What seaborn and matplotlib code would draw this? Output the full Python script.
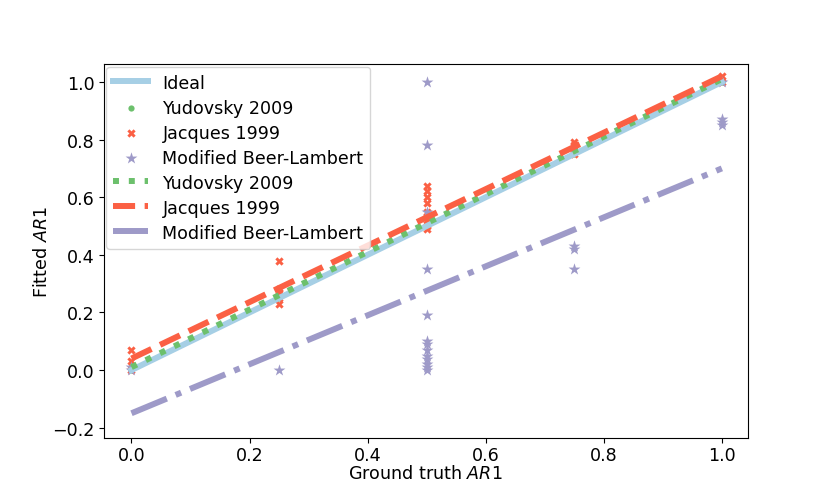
import numpy as np
import pandas as pd
import matplotlib
matplotlib.use("Agg")
import matplotlib.pyplot as plt
import seaborn as sns

# ground truth / fitted values
yud_x = [0.0, 0.0, 0.25, 0.25, 0.5, 0.5, 0.75, 0.75, 1.0]
yud_y = [0.0, 0.01, 0.25, 0.26, 0.5, 0.51, 0.75, 0.76, 1.0]

jac_x = [0.0, 0.0, 0.0,
         0.25, 0.25, 0.25, 0.25, 0.25, 0.25,
         0.5, 0.5, 0.5, 0.5, 0.5, 0.5, 0.5, 0.5, 0.5,
         0.75, 0.75, 0.75, 0.75, 0.75,
         1.0, 1.0]
jac_y = [0.0, 0.03, 0.07,
         0.38, 0.28, 0.27, 0.26, 0.25, 0.23,
         0.64, 0.62, 0.60, 0.58, 0.55, 0.53, 0.52, 0.50, 0.49,
         0.79, 0.78, 0.77, 0.76, 0.75,
         1.02, 1.0]

mbl_x = [0.0, 0.0, 0.25,
         0.5, 0.5, 0.5, 0.5, 0.5, 0.5, 0.5, 0.5, 0.5, 0.5, 0.5, 0.5, 0.5,
         0.75, 0.75, 0.75, 0.75,
         1.0, 1.0, 1.0, 1.0]
mbl_y = [0.0, 0.01, 0.0,
         1.0, 0.78, 0.55, 0.35, 0.19, 0.1, 0.09, 0.07, 0.05, 0.04, 0.02, 0.01, 0.0,
         0.76, 0.43, 0.42, 0.35,
         1.0, 0.87, 0.86, 0.85]

# linear fits (intercept at 0, value at 1)
fit_x = [0.0, 1.0]
yud_fit = [0.01, 1.01]
jac_fit = [0.04, 1.02]
mbl_fit = [-0.15, 0.70]
ideal = [0.0, 1.0]

c_blue = "#a6cfe5"
c_green = "#6cc06c"
c_red = "#fb6044"
c_purple = "#9e9ac8"

plt.rcParams["font.size"] = 12.6
plt.rcParams["xtick.major.pad"] = 2
plt.rcParams["ytick.major.pad"] = 3
fig, ax = plt.subplots(figsize=(8.3, 4.85), dpi=100)
fig.subplots_adjust(left=0.125, right=0.901, top=0.866, bottom=0.0948)

sns.lineplot(x=fit_x, y=ideal, ax=ax, color=c_blue, lw=4.3, label="Ideal")
sns.scatterplot(x=yud_x, y=yud_y, ax=ax, color=c_green, marker="o", s=20,
                linewidth=0, label="Yudovsky 2009")
sns.scatterplot(x=jac_x, y=jac_y, ax=ax, color=c_red, marker="X", s=36,
                linewidth=0, label="Jacques 1999")
sns.scatterplot(x=mbl_x, y=mbl_y, ax=ax, color=c_purple, marker="*", s=80,
                linewidth=0, label="Modified Beer-Lambert")
sns.lineplot(x=fit_x, y=yud_fit, ax=ax, color=c_green, lw=4.3, ls=":",
             label="Yudovsky 2009")
sns.lineplot(x=fit_x, y=jac_fit, ax=ax, color=c_red, lw=4.3, ls="--",
             label="Jacques 1999")
sns.lineplot(x=fit_x, y=mbl_fit, ax=ax, color=c_purple, lw=4.3, ls="-.",
             label="Modified Beer-Lambert")

ax.set_xlim(-0.047, 1.044)
ax.set_ylim(-0.236, 1.0625)
ax.set_xlabel("Ground truth $AR1$", labelpad=0)
ax.set_ylabel("Fitted $AR1$", labelpad=1)
ax.legend(loc="upper left", borderaxespad=0.15, labelspacing=0.4)

fig.savefig("out.png", dpi=100)
